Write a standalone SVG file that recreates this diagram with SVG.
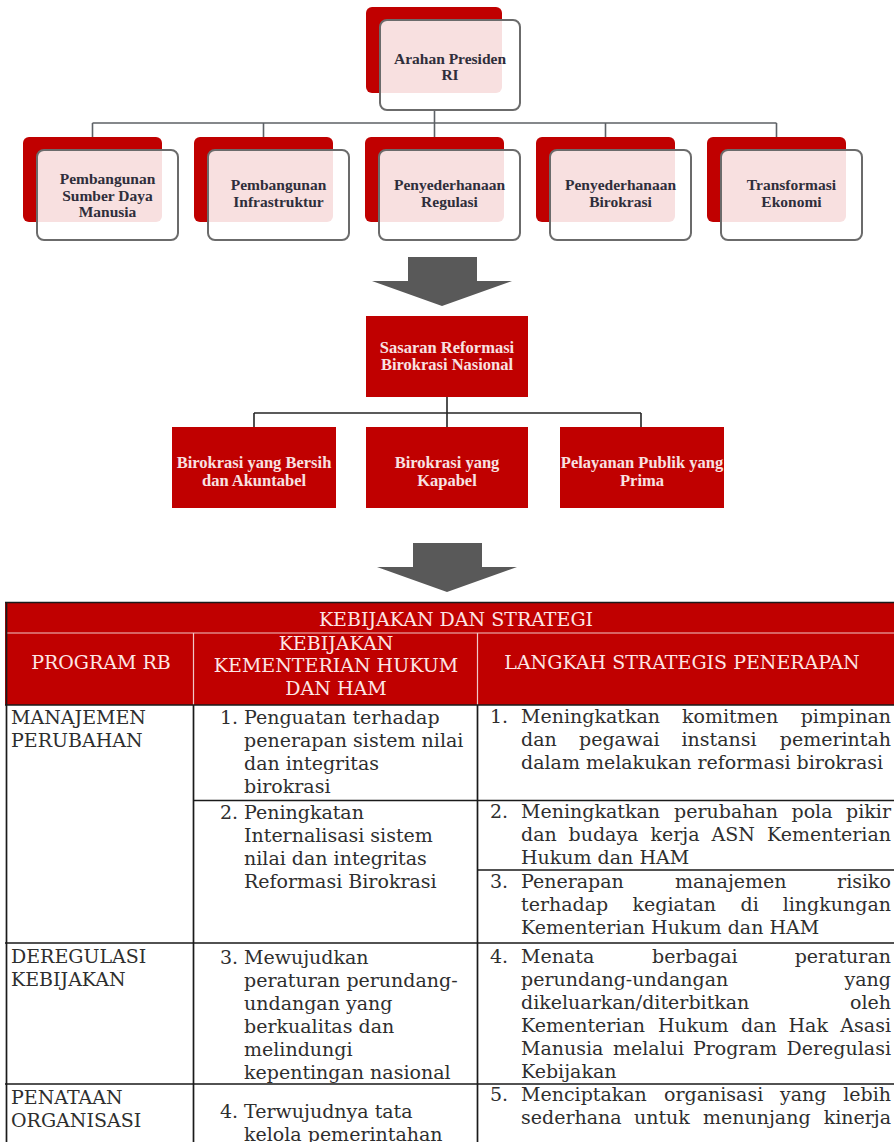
<svg xmlns="http://www.w3.org/2000/svg" width="894" height="1142" viewBox="0 0 894 1142">
<style>
.back{fill:#c00000}
.front{fill:#ffffff;fill-opacity:0.88;stroke:#6b6b6b;stroke-width:2}
.t1{font-family:"Liberation Serif",serif;font-weight:bold;font-size:15.5px;fill:#2f2e3b;text-anchor:middle}
.t2{font-family:"Liberation Serif",serif;font-weight:bold;font-size:16.5px;fill:#f8e2e2;text-anchor:middle}
.redbox{fill:#c00000}
.conn{fill:none;stroke:#5d6166;stroke-width:1.6}
.conn2{fill:none;stroke:#262626;stroke-width:1.6}
.arrow{fill:#595959}
.hd{font-family:"DejaVu Serif",serif;font-size:19px;fill:#fde6e6}
.hc{text-anchor:middle}
.b{font-family:"DejaVu Serif",serif;font-size:19px;fill:#2e2e2e}
.e{text-anchor:end}
.grid{stroke:#1a1a1a;stroke-width:1.7;fill:none}
.hgrid{stroke:#f0c8c8;stroke-width:1.2;fill:none}
</style>

<g id="connectors">
  <path class="conn" d="M434.5,110 V123 M92.5,123 H776.5 M92.5,123 V137 M263.5,123 V137 M434.5,123 V137 M605.5,123 V137 M776.5,123 V137"/>
  <path class="conn2" d="M447,397 V413 M254,413 H641 M254,413 V427 M447,413 V427 M641,413 V427"/>
</g>

<g id="node-arahan">
  <rect class="back" x="366" y="7" width="136" height="86" rx="6"/>
  <rect class="front" x="380" y="20" width="140" height="90" rx="7"/>
  <text class="t1" x="450" y="64">Arahan Presiden</text>
  <text class="t1" x="450" y="80">RI</text>
</g>

<g id="node-sdm">
  <rect class="back" x="23" y="137" width="139" height="85" rx="6"/>
  <rect class="front" x="37" y="150" width="141" height="90" rx="7"/>
  <text class="t1" x="107.5" y="184">Pembangunan</text>
  <text class="t1" x="107.5" y="201">Sumber Daya</text>
  <text class="t1" x="107.5" y="217">Manusia</text>
</g>

<g id="node-infra">
  <rect class="back" x="194" y="137" width="139" height="85" rx="6"/>
  <rect class="front" x="208" y="150" width="141" height="90" rx="7"/>
  <text class="t1" x="278.5" y="190">Pembangunan</text>
  <text class="t1" x="278.5" y="207">Infrastruktur</text>
</g>

<g id="node-regulasi">
  <rect class="back" x="365" y="137" width="139" height="85" rx="6"/>
  <rect class="front" x="379" y="150" width="141" height="90" rx="7"/>
  <text class="t1" x="449.5" y="190">Penyederhanaan</text>
  <text class="t1" x="449.5" y="207">Regulasi</text>
</g>

<g id="node-birokrasi">
  <rect class="back" x="536" y="137" width="139" height="85" rx="6"/>
  <rect class="front" x="550" y="150" width="141" height="90" rx="7"/>
  <text class="t1" x="620.5" y="190">Penyederhanaan</text>
  <text class="t1" x="620.5" y="207">Birokrasi</text>
</g>

<g id="node-ekonomi">
  <rect class="back" x="707" y="137" width="139" height="85" rx="6"/>
  <rect class="front" x="721" y="150" width="141" height="90" rx="7"/>
  <text class="t1" x="791.5" y="190">Transformasi</text>
  <text class="t1" x="791.5" y="207">Ekonomi</text>
</g>

<g id="arrow-1">
  <polygon class="arrow" points="408,257 477,257 477,281 512,281 442,306 372,281 408,281"/>
</g>

<g id="node-sasaran">
  <rect class="redbox" x="366" y="316" width="162" height="81"/>
  <text class="t2" x="447" y="353">Sasaran Reformasi</text>
  <text class="t2" x="447" y="370">Birokrasi Nasional</text>
</g>

<g id="node-bersih">
  <rect class="redbox" x="172" y="427" width="164" height="81"/>
  <text class="t2" x="254" y="468">Birokrasi yang Bersih</text>
  <text class="t2" x="254" y="486">dan Akuntabel</text>
</g>

<g id="node-kapabel">
  <rect class="redbox" x="366" y="427" width="162" height="81"/>
  <text class="t2" x="447" y="468">Birokrasi yang</text>
  <text class="t2" x="447" y="486">Kapabel</text>
</g>

<g id="node-prima">
  <rect class="redbox" x="560" y="427" width="164" height="81"/>
  <text class="t2" x="642" y="468">Pelayanan Publik yang</text>
  <text class="t2" x="642" y="486">Prima</text>
</g>

<g id="arrow-2">
  <polygon class="arrow" points="413,543 482,543 482,567 517,567 447,592 377,567 413,567"/>
</g>

<g id="table">
  <rect x="5" y="602" width="900" height="103" fill="#c00000"/>
  <path class="hgrid" d="M6,633 H900 M193.5,633 V705 M477.5,633 V705"/>
  <path class="grid" d="M5,602.5 H900 M6.5,602 V1142 M5,705 H900 M193.5,705 V1142 M477.5,705 V1142 M193.5,800.5 H900 M477.5,870 H900 M5,943 H900 M5,1084 H900"/>

  <text class="hd hc" x="456" y="626">KEBIJAKAN DAN STRATEGI</text>
  <text class="hd hc" x="101" y="669">PROGRAM RB</text>
  <text class="hd hc" x="336" y="650">KEBIJAKAN</text>
  <text class="hd hc" x="336" y="672">KEMENTERIAN HUKUM</text>
  <text class="hd hc" x="336" y="695">DAN HAM</text>
  <text class="hd hc" x="682" y="669">LANGKAH STRATEGIS PENERAPAN</text>

  <text class="b" x="11" y="724">MANAJEMEN</text>
  <text class="b" x="11" y="747">PERUBAHAN</text>
  <text class="b" x="11" y="963">DEREGULASI</text>
  <text class="b" x="11" y="986">KEBIJAKAN</text>
  <text class="b" x="11" y="1104">PENATAAN</text>
  <text class="b" x="11" y="1127">ORGANISASI</text>

  <text class="b" x="220" y="724">1.</text>
  <text class="b" x="244" y="724">Penguatan terhadap</text>
  <text class="b" x="244" y="747">penerapan sistem nilai</text>
  <text class="b" x="244" y="770">dan integritas</text>
  <text class="b" x="244" y="793">birokrasi</text>
  <text class="b" x="220" y="819">2.</text>
  <text class="b" x="244" y="819">Peningkatan</text>
  <text class="b" x="244" y="842">Internalisasi sistem</text>
  <text class="b" x="244" y="865">nilai dan integritas</text>
  <text class="b" x="244" y="888">Reformasi Birokrasi</text>
  <text class="b" x="220" y="964">3.</text>
  <text class="b" x="244" y="964">Mewujudkan</text>
  <text class="b" x="244" y="987">peraturan perundang-</text>
  <text class="b" x="244" y="1010">undangan yang</text>
  <text class="b" x="244" y="1033">berkualitas dan</text>
  <text class="b" x="244" y="1056">melindungi</text>
  <text class="b" x="244" y="1079">kepentingan nasional</text>
  <text class="b" x="220" y="1118">4.</text>
  <text class="b" x="244" y="1118">Terwujudnya tata</text>
  <text class="b" x="244" y="1141">kelola pemerintahan</text>

  <text class="b" y="723"><tspan x="490">1.</tspan><tspan x="521">Meningkatkan</tspan><tspan x="682">komitmen</tspan></text>
  <text class="b e" x="891" y="723">pimpinan</text>
  <text class="b" y="746"><tspan x="521">dan</tspan><tspan x="579">pegawai</tspan><tspan x="681.5">instansi</tspan></text>
  <text class="b e" x="891" y="746">pemerintah</text>
  <text class="b" x="521" y="769">dalam melakukan reformasi birokrasi</text>

  <text class="b" y="818"><tspan x="490">2.</tspan><tspan x="521">Meningkatkan</tspan><tspan x="674">perubahan</tspan><tspan x="791.5">pola</tspan></text>
  <text class="b e" x="891" y="818">pikir</text>
  <text class="b" y="841"><tspan x="521">dan</tspan><tspan x="568.5">budaya</tspan><tspan x="650.5">kerja</tspan><tspan x="711.5">ASN</tspan></text>
  <text class="b e" x="891" y="841">Kementerian</text>
  <text class="b" x="521" y="864">Hukum dan HAM</text>

  <text class="b" y="888"><tspan x="490">3.</tspan><tspan x="521">Penerapan</tspan><tspan x="675">manajemen</tspan></text>
  <text class="b e" x="891" y="888">risiko</text>
  <text class="b" y="911"><tspan x="521">terhadap</tspan><tspan x="632.5">kegiatan</tspan><tspan x="740.5">di</tspan></text>
  <text class="b e" x="891" y="911">lingkungan</text>
  <text class="b" x="521" y="934">Kementerian Hukum dan HAM</text>

  <text class="b" y="963"><tspan x="490">4.</tspan><tspan x="521">Menata</tspan><tspan x="652">berbagai</tspan></text>
  <text class="b e" x="891" y="963">peraturan</text>
  <text class="b" x="521" y="986">perundang-undangan</text>
  <text class="b e" x="891" y="986">yang</text>
  <text class="b" x="521" y="1009">dikeluarkan/diterbitkan</text>
  <text class="b e" x="891" y="1009">oleh</text>
  <text class="b" y="1032"><tspan x="521">Kementerian</tspan><tspan x="658">Hukum</tspan><tspan x="741">dan</tspan><tspan x="788.5">Hak</tspan></text>
  <text class="b e" x="891" y="1032">Asasi</text>
  <text class="b" y="1055"><tspan x="521">Manusia</tspan><tspan x="613">melalui</tspan><tspan x="693">Program</tspan></text>
  <text class="b e" x="891" y="1055">Deregulasi</text>
  <text class="b" x="521" y="1078">Kebijakan</text>

  <text class="b" y="1101"><tspan x="490">5.</tspan><tspan x="521">Menciptakan</tspan><tspan x="664">organisasi</tspan><tspan x="780">yang</tspan></text>
  <text class="b e" x="891" y="1101">lebih</text>
  <text class="b" y="1124"><tspan x="521">sederhana</tspan><tspan x="634">untuk</tspan><tspan x="703">menunjang</tspan></text>
  <text class="b e" x="891" y="1124">kinerja</text>
</g>
</svg>
